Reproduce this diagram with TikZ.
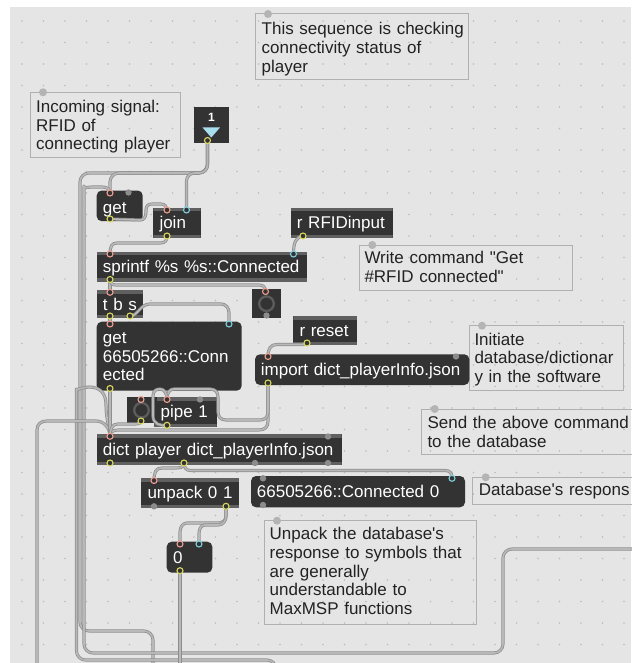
\documentclass[tikz,border=0pt]{standalone}
\usepackage{fontspec}
\newfontfamily\mfont{Liberation Sans}
\definecolor{bg}{HTML}{E5E5E5}
\definecolor{griddot}{HTML}{BBBBBB}
\definecolor{boxdark}{HTML}{333333}
\definecolor{strip}{HTML}{606060}
\definecolor{cmtborder}{HTML}{B0B0B0}
\definecolor{cmtdot}{HTML}{B4B4B4}
\definecolor{txtdark}{HTML}{222222}
\definecolor{cordout}{HTML}{8E8E8E}
\definecolor{cordin}{HTML}{B8B8B8}
\definecolor{inpink}{HTML}{F0A090}
\definecolor{incyan}{HTML}{80D0E0}
\definecolor{outyel}{HTML}{DADA60}
\definecolor{portgray}{HTML}{8C8C8C}
\definecolor{ringgray}{HTML}{5C5C5C}
\definecolor{tricyan}{HTML}{A8DFEC}
\tikzset{
  cord/.style={draw=cordout, line width=0.75pt, double=cordin, double distance=1.6pt, line join=round, line cap=round},
  objbox/.style={fill=boxdark, anchor=north west, inner sep=0pt, outer sep=0pt,
    path picture={\fill[strip] (path picture bounding box.north west) rectangle ([yshift=-3.5pt]path picture bounding box.north east);
                  \fill[strip] (path picture bounding box.south west) rectangle ([yshift=3.5pt]path picture bounding box.south east);}},
  msgbox/.style={fill=boxdark, rounded corners=5pt, anchor=north west, inner sep=0pt, outer sep=0pt},
  darkbox/.style={fill=boxdark, anchor=north west, inner sep=0pt, outer sep=0pt},
  cmtbox/.style={draw=cmtborder, line width=1pt, anchor=north west, inner sep=0pt, outer sep=0pt},
  otext/.style={text=white, font=\mfont\fontsize{17}{18.5}\selectfont, anchor=base west, inner sep=0pt, text width=260pt, align=left},
  ctext/.style={text=txtdark, font=\mfont\fontsize{17}{18.8}\selectfont, anchor=base west, inner sep=0pt, text width=260pt, align=left},
  ring/.style={line width=1.1pt, fill=boxdark},
  bang/.style={draw=ringgray, line width=2.3pt}
}
\newcommand\mobj[6]{\node[#6, minimum width={#4-#2}, minimum height={#5-#3}] (#1) at (#2,#3) {};}
\newcommand\otxt[4]{\node[otext] (#1) at (#2,#3) {#4};}
\newcommand\cmt[8]{\node[cmtbox, minimum width={#4-#2}, minimum height={#5-#3}] (#1) at (#2,#3) {};
  \fill[cmtdot] ([xshift=13pt]#1.north west) circle (4pt);
  \node[ctext] (#1-t) at (#6,#7) {#8};}
\begin{document}
\begin{tikzpicture}[x=1pt,y=-1pt]
\useasboundingbox (0,0) rectangle (631,663);
\fill[white] (0,0) rectangle (631,663);
\fill[bg] (10,7) rectangle (631,663);
\foreach \i in {0,...,28} \foreach \j in {0,...,29} \fill[griddot] ({22+21.5*\i},{21+21.5*\j}) circle (0.8pt);

% comments
\cmt{cthis}{255}{14}{468}{79.3}{261.5}{35}{This sequence is checking\\connectivity status of\\player}
\cmt{cin}{30}{92.3}{180}{157.3}{36}{112.3}{Incoming signal:\\RFID of\\connecting player}
\cmt{cwr}{359.3}{245}{572.3}{290}{364.3}{263.3}{Write command "Get\\\#RFID connected"}
\cmt{cini}{469}{325.7}{623.3}{390.7}{474.3}{345}{Initiate\\database/dictionar\\y in the software}
\cmt{csend}{421.7}{409}{660}{454}{427.3}{428.3}{Send the above command\\to the database}
\cmt{cdb}{472.7}{477.3}{660}{504}{478.7}{495}{Database's respons}
\cmt{cunp}{264}{520.7}{476.7}{624}{269.5}{539.5}{Unpack the database's\\response to symbols that\\are generally\\understandable to\\MaxMSP functions}

% objects
\mobj{num1}{194}{107.3}{229.3}{142.7}{darkbox}
\node[text=white, font=\mfont\bfseries\fontsize{12}{12}\selectfont, anchor=base, inner sep=0pt] (num1-t) at (211.5,122) {1};
\fill[tricyan] (202.5,127.5) -- (220,127.5) -- (211.3,137.5) -- cycle;
\mobj{get}{96.7}{190.5}{142.7}{221.2}{msgbox}
\otxt{get-t}{102.7}{213.5}{get}
\mobj{join}{153.3}{207.7}{200.7}{238.3}{objbox}
\otxt{join-t}{159.3}{228.8}{join}
\mobj{rfid}{290.7}{207.7}{392.7}{238.3}{objbox}
\otxt{rfid-t}{296.7}{228.8}{r RFIDinput}
\mobj{spr}{96.7}{251.7}{307.3}{281.7}{objbox}
\otxt{spr-t}{102.7}{272.5}{sprintf \%s \%s::Connected}
\mobj{tbs}{96.7}{290}{143.3}{318.3}{objbox}
\otxt{tbs-t}{102.7}{310}{t b s}
\mobj{btn}{252.3}{289.3}{280.7}{318}{darkbox}
\draw[bang] (266.5,303.7) circle (7.3pt);
\mobj{g66}{96.7}{321.7}{241.7}{390.7}{msgbox}
\otxt{g66-t}{102.7}{343.5}{get\\66505266::Conn\\ected}
\mobj{rst}{293.3}{316}{357.3}{345}{objbox}
\otxt{rst-t}{299.3}{336}{r reset}
\mobj{imp}{255}{354.3}{469.3}{385}{msgbox}
\otxt{imp-t}{260.7}{375}{import dict\_playerInfo.json}
\mobj{pipe}{154}{397.3}{216.7}{427.3}{objbox}
\otxt{pipe-t}{160.5}{417}{pipe 1}
\mobj{tg}{126.5}{397.3}{156.7}{423}{darkbox}
\draw[bang] (141.5,410.2) circle (7.3pt);
\mobj{dict}{96.7}{434}{341.7}{465}{objbox}
\otxt{dict-t}{102.7}{455}{dict player dict\_playerInfo.json}
\mobj{unp}{140.7}{478.3}{239.3}{508.3}{objbox}
\otxt{unp-t}{147.3}{498.8}{unpack 0 1}
\mobj{m66}{251}{476}{465}{507.3}{msgbox}
\otxt{m66-t}{256.7}{497}{66505266::Connected 0}
\mobj{n0}{166.7}{541.7}{212.3}{572.7}{msgbox}
\otxt{n0-t}{173}{563}{0}

% ports
\coordinate (n1-o) at (207.5,140.5);
\coordinate (get-i) at (110,193); \coordinate (get-o) at (110,219);
\coordinate (join-i1) at (167,210); \coordinate (join-i2) at (186.5,210); \coordinate (join-o) at (167,236);
\coordinate (rfid-o) at (303,236);
\coordinate (spr-i1) at (110,254); \coordinate (spr-i2) at (293.5,254); \coordinate (spr-o) at (110,279.5);
\coordinate (tbs-i) at (110,292.3); \coordinate (tbs-o1) at (110,316); \coordinate (tbs-o2) at (130,316);
\coordinate (btn-i) at (265.5,291.5);
\coordinate (g66-i1) at (110,324); \coordinate (g66-i2) at (229,324); \coordinate (g66-o) at (110,388.5);
\coordinate (rst-o) at (307,343);
\coordinate (imp-i) at (268,356.5); \coordinate (imp-o) at (268,383);
\coordinate (tg-i) at (141,399.5); \coordinate (tg-o) at (141,421);
\coordinate (pipe-i1) at (167,399.5); \coordinate (pipe-o) at (167,425.3);
\coordinate (dict-i) at (110,436.3); \coordinate (dict-o1) at (110,463); \coordinate (dict-o2) at (184,463);
\coordinate (unp-i) at (154,480.5); \coordinate (unp-o2) at (226,506.3);
\coordinate (m66-i2) at (452,478.3);
\coordinate (n0-i1) at (180,544); \coordinate (n0-i2) at (199,544); \coordinate (n0-o) at (180,570.7);
\coordinate (b1) at (153,672); \coordinate (b2) at (276,672); \coordinate (b3) at (37,672);
\coordinate (b4) at (180,672); \coordinate (r1) at (640,549);

% cords
\draw[cord, rounded corners=9pt] (n1-o) -- (207.5,173) -- (80,173) -- (80,631) -- (153,631) -- (b1);
\draw[cord, rounded corners=9pt] (n1-o) -- (207.5,173) -- (110,173) -- (get-i);
\draw[cord, rounded corners=8pt] (n1-o) -- (207.5,173) -- (186.5,173) -- (join-i2);
\draw[cord] [rounded corners=9pt] (r1) -- (503,549) -- (503,653) -- (84,653) -- (84,195) [sharp corners]
   .. controls (84,189) and (87,187) .. (92,187) -- (102,187) .. controls (107,187) and (110,189) .. (get-i);
\draw[cord] [rounded corners=9pt] (b2) -- (276,660) -- (76.5,660) -- (76.5,398) [sharp corners]
   .. controls (76.5,391) and (82,387) .. (89,387) .. controls (100,387) and (106,393) .. (106,405)
   .. controls (106,420) and (110,428) .. (dict-i);
\draw[cord] (b3) -- (37,430) .. controls (37,424) and (41,421) .. (47,421) -- (96,421) .. controls (104,421) and (110,428) .. (dict-i);
\draw[cord] (get-o) -- (140,220) .. controls (144,220) and (146,217) .. (146,212) -- (146,210)
   .. controls (146,206) and (148,204) .. (152,204) -- (161,204) .. controls (165,204) and (167,207) .. (join-i1);
\draw[cord] (join-o) .. controls (167,241) and (165,243) .. (160,243) -- (117,243) .. controls (112,243) and (110,246) .. (spr-i1);
\draw[cord] (rfid-o) .. controls (296,237) and (293.5,242) .. (spr-i2);
\draw[cord] (spr-o) -- (tbs-i);
\draw[cord] (spr-o) .. controls (110,283) and (112,285) .. (116,285) -- (259,285) .. controls (263,285) and (265.5,287) .. (btn-i);
\draw[cord] (tbs-o2) .. controls (138,316) and (140,304) .. (150,304) -- (221,304) .. controls (226,304) and (229,308) .. (229,313) -- (g66-i2);
\draw[cord] (tbs-o1) -- (g66-i1);
\draw[cord] (rst-o) .. controls (307,344.5) and (305,344.5) .. (300,344.5) -- (277,344.5) .. controls (271,344.5) and (268,348) .. (imp-i);
\draw[cord] (g66-o) -- (dict-i);
\draw[cord] (imp-o) -- (268,421) .. controls (268,427) and (265,430) .. (259,430) -- (118,430) .. controls (113,430) and (110,432) .. (dict-i);
\draw[cord] (imp-o) -- (268,412) .. controls (268,417) and (265,420) .. (260,420) -- (226,420) .. controls (221,420) and (218,417) .. (218,412) -- (218,397)
   .. controls (218,392) and (215,389) .. (210,389) -- (174,389) .. controls (170,389) and (167,392) .. (pipe-i1);
\draw[cord] (pipe-o) .. controls (160,426) and (153,424) .. (153,416) -- (153,396) .. controls (153,391) and (156,389) .. (160,389) .. controls (164,389) and (167,393) .. (pipe-i1);
\draw[cord] (tg-o) .. controls (141,424) and (138,424) .. (132,424) -- (118,424) .. controls (112,424) and (110,429) .. (dict-i);
\draw[cord] (dict-o2) .. controls (184,468) and (186,470.5) .. (191,470.5) -- (445,470.5) .. controls (450,470.5) and (452,473) .. (m66-i2);
\draw[cord] (dict-o2) .. controls (184,468) and (180,468) .. (174,468) -- (162,468) .. controls (156,468) and (154,472) .. (unp-i);
\draw[cord] (unp-o2) -- (226,516) .. controls (226,520) and (223,523) .. (218,523) -- (187,523) .. controls (183,523) and (180,527) .. (180,532) -- (n0-i1);
\draw[cord] (unp-o2) -- (226,516) .. controls (226,521) and (223,525) .. (218,525) -- (205,525) .. controls (201,525) and (199,529) .. (199,534) -- (n0-i2);
\draw[cord] (n0-o) -- (b4);

% port rings
\foreach \n in {get-i,join-i1,spr-i1,tbs-i,btn-i,g66-i1,imp-i,tg-i,pipe-i1,dict-i,unp-i,n0-i1}
  \draw[inpink, ring] (\n) circle (3pt);
\foreach \n in {join-i2,spr-i2,g66-i2,m66-i2,n0-i2}
  \draw[incyan, ring] (\n) circle (3pt);
\foreach \n in {n1-o,get-o,join-o,rfid-o,spr-o,tbs-o1,tbs-o2,g66-o,rst-o,imp-o,tg-o,pipe-o,dict-o1,dict-o2,unp-o2,n0-o}
  \draw[outyel, ring] (\n) circle (3pt);
\foreach \p in {(128.5,192.5),(200,399.5),(456,356.5),(266.5,315.5),(255,463),(328,436.5),(328,463),(154,506.3),(263,478.3),(263,505)}
  \fill[portgray] \p circle (3.2pt);
\end{tikzpicture}
\end{document}
